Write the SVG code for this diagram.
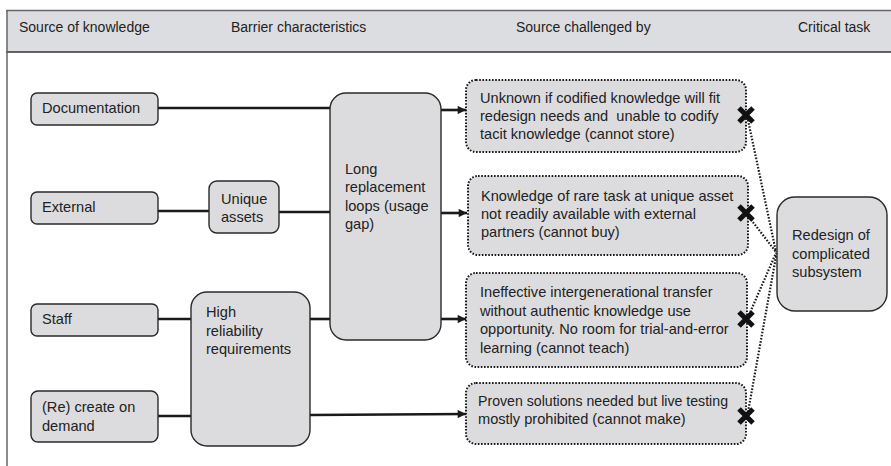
<svg xmlns="http://www.w3.org/2000/svg" width="891" height="466" viewBox="0 0 891 466">
<defs>
<style>
text{font-family:"Liberation Sans",Arial,sans-serif;font-size:14.6px;fill:#222}
text.h{font-size:14px}
.box{fill:#dcdcde;stroke:#2a2a2a;stroke-width:1.4}
.dbox{fill:#dcdcde;stroke:#1a1a1a;stroke-width:2;stroke-dasharray:1.6 1.6}
.con{stroke:#1a1a1a;stroke-width:2.6;fill:none}
.dot{stroke:#1a1a1a;stroke-width:2.2;stroke-dasharray:1.6 1.6;fill:none}
.x{stroke:#111;stroke-width:5;stroke-linecap:butt}
</style>
<marker id="arr" viewBox="0 0 10 10" refX="10" refY="5" markerWidth="3.4" markerHeight="3.2" orient="auto" markerUnits="strokeWidth">
<path d="M0,0 L10,5 L0,10 z" fill="#1a1a1a"/>
</marker>
</defs>
<rect width="891" height="466" fill="#fff"/>
<g id="frame">
<rect x="7" y="10" width="890" height="42" fill="#dcdde0"/>
<line x1="6" y1="10.5" x2="891" y2="10.5" stroke="#666" stroke-width="1.5"/>
<line x1="6" y1="52" x2="891" y2="52" stroke="#333" stroke-width="1.5"/>
<line x1="7" y1="10" x2="7" y2="466" stroke="#666" stroke-width="1.5"/>
<text class="h" x="19" y="32">Source of knowledge</text>
<text class="h" x="231" y="32">Barrier characteristics</text>
<text class="h" x="516" y="32">Source challenged by</text>
<text class="h" x="798" y="32">Critical task</text>
</g>
<g id="connectors">
<line class="con" x1="158" y1="108" x2="330" y2="108"/>
<line class="con" x1="158" y1="211" x2="209" y2="211"/>
<line class="con" x1="279" y1="212" x2="330" y2="212"/>
<line class="con" x1="158" y1="319" x2="191" y2="319"/>
<line class="con" x1="310" y1="319" x2="330" y2="319"/>
<line class="con" x1="158" y1="416" x2="191" y2="416"/>
<line class="con" x1="441" y1="110" x2="466" y2="110" marker-end="url(#arr)"/>
<line class="con" x1="441" y1="213" x2="467" y2="213" marker-end="url(#arr)"/>
<line class="con" x1="441" y1="319" x2="466" y2="319" marker-end="url(#arr)"/>
<line class="con" x1="310" y1="415" x2="466" y2="414" marker-end="url(#arr)"/>
<line class="dot" x1="748" y1="120" x2="776" y2="252"/>
<line class="dot" x1="749" y1="217" x2="776" y2="252"/>
<line class="dot" x1="749" y1="315" x2="776" y2="253"/>
<line class="dot" x1="748" y1="412" x2="777" y2="251"/>
</g>
<g id="n-documentation">
<rect class="box" x="31" y="93" width="127" height="32" rx="6"/>
<text x="42" y="113">Documentation</text>
</g>
<g id="n-external">
<rect class="box" x="31" y="192" width="127" height="32" rx="6"/>
<text x="42" y="212">External</text>
</g>
<g id="n-staff">
<rect class="box" x="31" y="304" width="127" height="32" rx="6"/>
<text x="42" y="324">Staff</text>
</g>
<g id="n-recreate">
<rect class="box" x="31" y="391" width="127" height="51" rx="7"/>
<text x="42" y="412">(Re) create on</text>
<text x="42" y="431">demand</text>
</g>
<g id="n-unique">
<rect class="box" x="209" y="181" width="70" height="52" rx="8"/>
<text x="221" y="204">Unique</text>
<text x="221" y="222">assets</text>
</g>
<g id="n-long">
<rect class="box" x="330" y="93" width="111" height="247" rx="16"/>
<text x="345" y="174">Long</text>
<text x="345" y="192">replacement</text>
<text x="345" y="211">loops (usage</text>
<text x="345" y="229">gap)</text>
</g>
<g id="n-high">
<rect class="box" x="191" y="292" width="119" height="154" rx="16"/>
<text x="206" y="317">High</text>
<text x="206" y="336">reliability</text>
<text x="206" y="354">requirements</text>
</g>
<g id="n-store">
<rect class="dbox" x="466" y="80" width="280" height="72" rx="10"/>
<text x="480" y="103">Unknown if codified knowledge will fit</text>
<text x="480" y="121" xml:space="preserve">redesign needs and  unable to codify</text>
<text x="480" y="139">tacit knowledge (cannot store)</text>
<path class="x" d="M739,108 L753,122 M753,108 L739,122"/>
</g>
<g id="n-buy">
<rect class="dbox" x="468" y="176" width="280" height="79" rx="10"/>
<text x="481" y="201">Knowledge of rare task at unique asset</text>
<text x="481" y="219">not readily available with external</text>
<text x="481" y="237">partners (cannot buy)</text>
<path class="x" d="M739,206 L753,220 M753,206 L739,220"/>
</g>
<g id="n-teach">
<rect class="dbox" x="466" y="273" width="281" height="94" rx="10"/>
<text x="480" y="297">Ineffective intergenerational transfer</text>
<text x="480" y="316">without authentic knowledge use</text>
<text x="480" y="334">opportunity. No room for trial-and-error</text>
<text x="480" y="353">learning (cannot teach)</text>
<path class="x" d="M739,312 L753,326 M753,312 L739,326"/>
</g>
<g id="n-make">
<rect class="dbox" x="466" y="383" width="280" height="61" rx="10"/>
<text x="478" y="406" textLength="250" lengthAdjust="spacingAndGlyphs">Proven solutions needed but live testing</text>
<text x="478" y="424">mostly prohibited (cannot make)</text>
<path class="x" d="M739,409 L753,423 M753,409 L739,423"/>
</g>
<g id="n-redesign">
<rect class="box" x="777" y="197" width="110" height="114" rx="18"/>
<text x="792" y="240">Redesign of</text>
<text x="792" y="259">complicated</text>
<text x="792" y="277">subsystem</text>
</g>
</svg>
